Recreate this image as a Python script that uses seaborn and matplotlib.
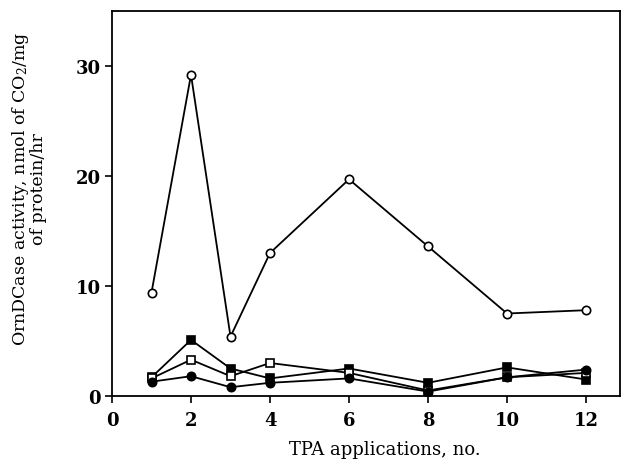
import matplotlib
matplotlib.use("Agg")
import matplotlib.pyplot as plt
import seaborn as sns
import pandas as pd

sns.set_theme(style="ticks")
plt.rcParams['font.family'] = ['DejaVu Serif', 'Liberation Serif']
plt.rcParams['mathtext.fontset'] = 'dejavuserif'
plt.rcParams['text.color'] = 'black'
plt.rcParams['axes.labelcolor'] = 'black'

x_open_circle = [1, 2, 3, 4, 6, 8, 10, 12]
y_open_circle = [9.4, 29.2, 5.4, 13.0, 19.7, 13.6, 7.5, 7.8]

x_filled_square = [1, 2, 3, 4, 6, 8, 10, 12]
y_filled_square = [1.7, 5.1, 2.5, 1.6, 2.5, 1.2, 2.6, 1.5]

x_open_square = [1, 2, 3, 4, 6, 8, 10, 12]
y_open_square = [1.6, 3.3, 1.8, 3.0, 2.1, 0.5, 1.7, 2.1]

x_filled_circle = [1, 2, 3, 4, 6, 8, 10, 12]
y_filled_circle = [1.3, 1.8, 0.8, 1.2, 1.6, 0.4, 1.7, 2.4]

x_ticks = [0, 2, 4, 6, 8, 10, 12]
y_ticks = [0, 10, 20, 30]

fig = plt.figure(figsize=(6.22, 4.64), dpi=100)
ax = fig.add_axes([112/622, 1 - 397/464, 508/622, 385/464])

series = [
    (x_open_circle, y_open_circle, 'o', 'white'),
    (x_filled_square, y_filled_square, 's', 'black'),
    (x_open_square, y_open_square, 's', 'white'),
    (x_filled_circle, y_filled_circle, 'o', 'black'),
]
for xs, ys, m, fc in series:
    df = pd.DataFrame({'x': xs, 'y': ys})
    sns.lineplot(data=df, x='x', y='y', ax=ax, color='black', linewidth=1.3,
                 marker=m, markersize=6, markerfacecolor=fc,
                 markeredgecolor='black', markeredgewidth=1.2)

ax.set_xlim(0, 12.86)
ax.set_ylim(0, 35)
ax.set_xticks(x_ticks)
ax.set_yticks(y_ticks)
ax.set_xticklabels([str(v) for v in x_ticks], fontsize=13, fontweight='bold')
ax.set_yticklabels([str(v) for v in y_ticks], fontsize=13, fontweight='bold')
ax.tick_params(direction='out', length=5, width=1.2, colors='black')
ax.tick_params(axis='y', pad=3)
ax.tick_params(axis='x', pad=6)
for s in ax.spines.values():
    s.set_visible(True)
    s.set_color('black')
    s.set_linewidth(1.3)

ax.set_xlabel('TPA applications, no.', fontsize=13, color='black')
ax.set_ylabel('OrnDCase activity, nmol of CO$_2$/mg\nof protein/hr', fontsize=12.5,
              multialignment='center', linespacing=0.95, color='black')
ax.xaxis.set_label_coords(0.537, -0.115)
ax.yaxis.set_label_coords(-0.128, 0.54)

fig.savefig('out.png', dpi=100)
